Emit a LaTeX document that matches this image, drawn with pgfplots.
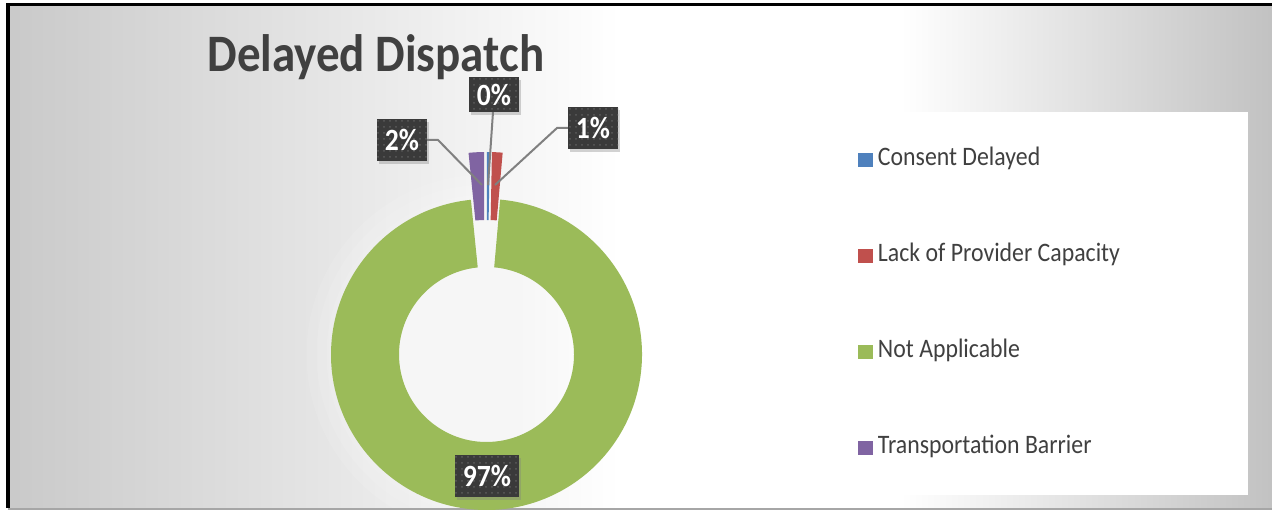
\documentclass[border=0pt]{standalone}
\usepackage{pgfplots}
\pgfplotsset{compat=1.18}
\usepackage{pgfplotstable}
\usepackage{fontspec}
\setmainfont{Carlito}
\usetikzlibrary{patterns,shadows}

\definecolor{cdblue}{RGB}{79,129,189}
\definecolor{cdred}{RGB}{192,80,77}
\definecolor{cdgreen}{RGB}{155,187,89}
\definecolor{cdpurple}{RGB}{128,100,162}
\definecolor{txtgray}{RGB}{64,64,64}
\definecolor{boxgray}{RGB}{58,58,58}
\definecolor{leadgray}{RGB}{128,128,128}

% share of each reason, in percent
\pgfplotstableread[col sep=comma]{
label,value,explode
Consent Delayed,0.3,47
Lack of Provider Capacity,1.1,47
Not Applicable,97.0,0
Transportation Barrier,1.6,47
}\dispatchdata

% doughnut geometry (pixel units of the axis)
\def\cx{486.5}
\def\cy{354.5}
\def\ro{155.5}
\def\ri{87.5}

\newcommand\tall[1]{\scalebox{1}[1.12]{#1}}

\begin{document}
\begin{tikzpicture}[
  lbl/.style={fill=boxgray,
    drop shadow={shadow xshift=1.2pt, shadow yshift=-1.5pt, opacity=0.35},
    postaction={pattern=dots, pattern color=black!64},
    text=white, font=\bfseries\fontsize{13.8}{14}\selectfont,
    minimum width=25pt, minimum height=21pt, inner sep=0pt}
]
\begin{axis}[
  width=636pt, height=255pt, scale only axis,
  xmin=0, xmax=1272, ymin=0, ymax=510, y dir=reverse,
  hide axis, clip=false,
  legend cell align={left},
  legend image code/.code={\fill[#1] (0pt,-3.4pt) rectangle (6.8pt,3.4pt);},
  legend style={at={(858/1272,0.404)}, anchor=west, draw=none, fill=none,
    font=\fontsize{11.9}{14}\selectfont, text=txtgray,
    row sep=35pt, inner sep=0pt,
    nodes={inner xsep=2.6pt, inner ysep=1.5pt, text height=8pt, text depth=2pt}},
]
% background
\fill[white] (axis cs:0,0) rectangle (axis cs:1272,510);
\shade[left color=black!21, right color=white] (axis cs:8,5) rectangle (axis cs:620,508);
\shade[left color=white, right color=black!24] (axis cs:900,5) rectangle (axis cs:1272,508);
\fill[black] (axis cs:6,3.5) rectangle (axis cs:9.5,508);
\fill[black] (axis cs:6,3.5) rectangle (axis cs:1272,6);
\fill[black!35] (axis cs:8,507.5) rectangle (axis cs:1272,510);
\fill[white] (axis cs:625,112) rectangle (axis cs:1248,495);

\pgfplotsextra{
  % soft glow behind the doughnut
  \begin{scope}
    \clip (axis cs:9.5,6) rectangle (axis cs:1272,507.5);
    \foreach \r in {180,170,...,30}{
      \fill[white, opacity=0.1, overlay] (axis cs:\cx,\cy) circle[radius=\r*0.5pt];
    }
  \end{scope}
  % slices, clockwise from 12 o'clock
  \gdef\cum{0}
  \foreach \i/\col in {0/cdblue,1/cdred,2/cdgreen,3/cdpurple}{
    \pgfplotstablegetelem{\i}{value}\of\dispatchdata \let\v\pgfplotsretval
    \pgfplotstablegetelem{\i}{explode}\of\dispatchdata \let\ex\pgfplotsretval
    \pgfmathsetmacro\ta{\cum*3.6}
    \pgfmathsetmacro\tb{(\cum+\v)*3.6}
    \pgfmathsetmacro\tm{(\ta+\tb)/2}
    \pgfmathsetmacro\ox{\cx+\ex*sin(\tm)}
    \pgfmathsetmacro\oy{\cy-\ex*cos(\tm)}
    \pgfmathsetmacro\xa{\ox+\ro*sin(\ta)}
    \pgfmathsetmacro\ya{\oy-\ro*cos(\ta)}
    \pgfmathsetmacro\xb{\ox+\ri*sin(\tb)}
    \pgfmathsetmacro\yb{\oy-\ri*cos(\tb)}
    \pgfmathsetmacro\pa{90-\ta}
    \pgfmathsetmacro\pb{90-\tb}
    \fill[\col] (axis cs:\xa,\ya) arc[start angle=\pa, end angle=\pb, radius=\ro*0.5pt]
      -- (axis cs:\xb,\yb) arc[start angle=\pb, end angle=\pa, radius=\ri*0.5pt] -- cycle;
    \pgfmathsetmacro\newcum{\cum+\v}
    \global\let\cum\newcum
  }
}

% leader lines
\draw[leadgray, line width=1pt] (axis cs:493,112) -- (axis cs:488,185);
\draw[leadgray, line width=1pt] (axis cs:568,128) -- (axis cs:557,128) -- (axis cs:495,185);
\draw[leadgray, line width=1pt] (axis cs:427,140) -- (axis cs:438,140) -- (axis cs:482,185);

% data labels
\node[lbl, minimum height=17.5pt] at (axis cs:494,95) {\tall{0\%}};
\node[lbl] at (axis cs:593,128) {\tall{1\%}};
\node[lbl] at (axis cs:402,140) {\tall{2\%}};
\node[lbl, minimum width=32pt] at (axis cs:487,476) {\tall{97\%}};

% title
\node[anchor=base west, inner sep=0pt, text=txtgray,
  font=\bfseries\fontsize{23.5}{28}\selectfont] at (axis cs:207,71.7)
  {\tall{Delayed Dispatch}};

\addlegendimage{cdblue}
\addlegendentry{\tall{Consent Delayed}}
\addlegendimage{cdred}
\addlegendentry{\tall{Lack of Provider Capacity}}
\addlegendimage{cdgreen}
\addlegendentry{\tall{Not Applicable}}
\addlegendimage{cdpurple}
\addlegendentry{\tall{Transportation Barrier}}
\end{axis}
\end{tikzpicture}
\end{document}
